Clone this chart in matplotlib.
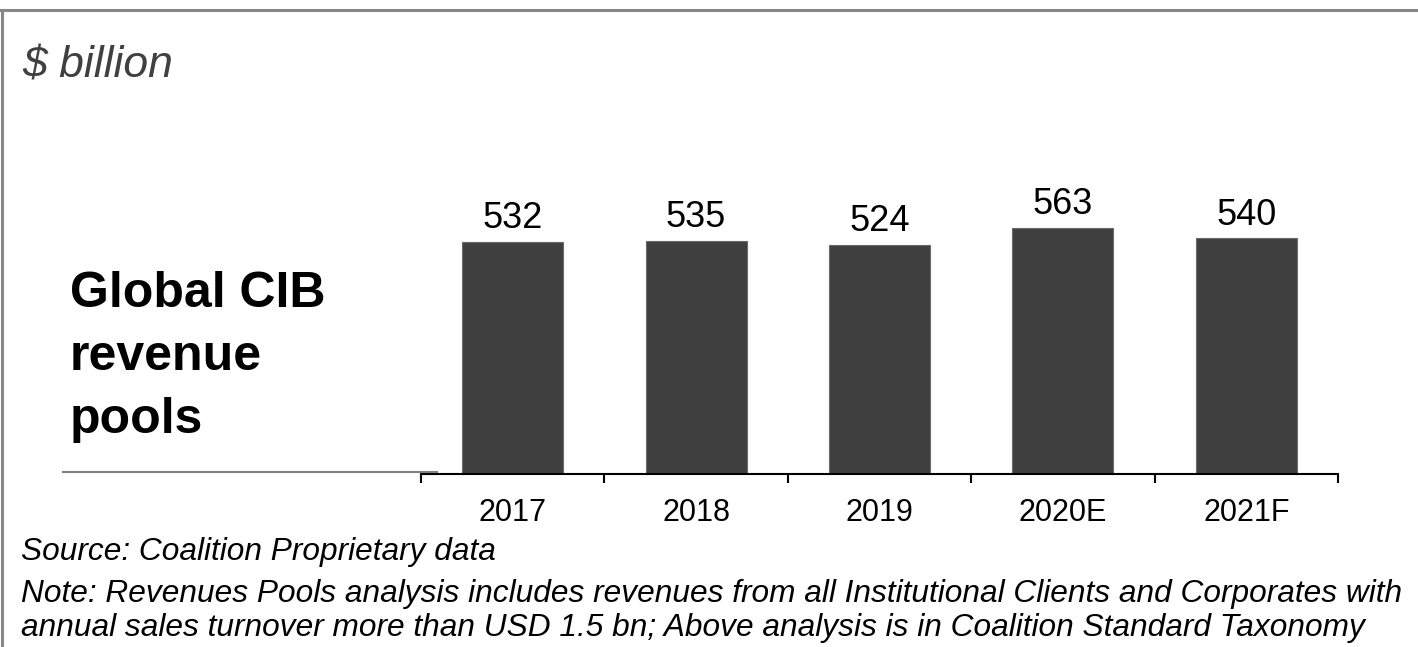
import matplotlib
matplotlib.use("Agg")
import matplotlib.pyplot as plt
from matplotlib.lines import Line2D

categories = ["2017", "2018", "2019", "2020E", "2021F"]
values = [532, 535, 524, 563, 540]

plt.rcParams['font.family'] = ['Liberation Sans', 'DejaVu Sans']

W, H = 1418, 647
fig = plt.figure(figsize=(W / 100, H / 100), dpi=100)

def fx(px):
    return px / W

def fy(py):
    return 1 - py / H

# frame lines (top and left)
fig.add_artist(Line2D([0, 1], [fy(10), fy(10)], color='#888888', lw=2.2, transform=fig.transFigure))
fig.add_artist(Line2D([fx(2), fx(2)], [0, fy(10)], color='#888888', lw=2.2, transform=fig.transFigure))

ax_left, ax_right, ax_bottom, ax_top = 421, 1338, 474, 200
ax = fig.add_axes([fx(ax_left), fy(ax_bottom), fx(ax_right - ax_left), (ax_bottom - ax_top) / H])
x = list(range(len(categories)))
ax.bar(x, values, width=0.55, color='#3f3f3f', edgecolor='#6a6a6a', linewidth=0.8, zorder=2)
ax.set_xlim(-0.5, len(categories) - 0.5)
ax.set_ylim(0, 628)
for xi, v in zip(x, values):
    ax.annotate(str(v), (xi, v), xytext=(0, 10), textcoords='offset points',
                ha='center', va='baseline', fontsize=26, color='black')

for s in ['top', 'right', 'left']:
    ax.spines[s].set_visible(False)
ax.spines['bottom'].set_linewidth(1.5)
ax.spines['bottom'].set_color('black')
ax.set_yticks([])
ax.set_xticks(x)
ax.set_xticklabels(categories, fontsize=22)
ax.tick_params(axis='x', which='major', length=0, pad=17)
ax.set_xticks([i - 0.5 for i in range(len(categories) + 1)], minor=True)
ax.tick_params(axis='x', which='minor', length=6.5, width=1.5, direction='out', color='black')

# gray underline to the left of the chart
fig.add_artist(Line2D([fx(63), fx(437)], [fy(471.5), fy(471.5)], color='#808080', lw=1.5, transform=fig.transFigure))

fig.text(fx(22), fy(77), "$ billion", fontsize=32, style='italic', color='#404040', va='baseline', ha='left')
fig.text(fx(70), fy(307), "Global CIB", fontsize=36, weight='bold', color='black', va='baseline', ha='left')
fig.text(fx(70), fy(370), "revenue", fontsize=36, weight='bold', color='black', va='baseline', ha='left')
fig.text(fx(70), fy(433), "pools", fontsize=36, weight='bold', color='black', va='baseline', ha='left')

fig.text(fx(21), fy(560), "Source: Coalition Proprietary data", fontsize=22.8, style='italic', color='black', va='baseline', ha='left')
fig.text(fx(21), fy(602), "Note: Revenues Pools analysis includes revenues from all Institutional Clients and Corporates with",
         fontsize=22.8, style='italic', color='black', va='baseline', ha='left')
fig.text(fx(21), fy(636), "annual sales turnover more than USD 1.5 bn; Above analysis is in Coalition Standard Taxonomy",
         fontsize=22.8, style='italic', color='black', va='baseline', ha='left')

fig.savefig("out.png", dpi=100)
